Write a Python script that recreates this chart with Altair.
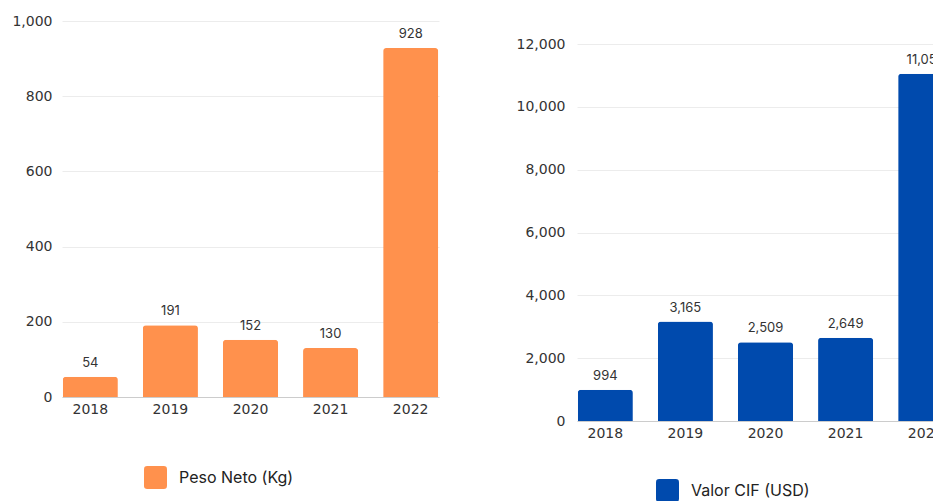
import altair as alt
import pandas as pd

years = ["2018", "2019", "2020", "2021", "2022"]
peso_neto = [54, 191, 152, 130, 928]
valor_cif = [994, 3165, 2509, 2649, 11053]
series_left = "Peso Neto (Kg)"
series_right = "Valor CIF (USD)"

df_l = pd.DataFrame({"year": years, "value": peso_neto, "serie": series_left})
df_r = pd.DataFrame({"year": years, "value": valor_cif, "serie": series_right})

FONT = "Inter"
AXFONT = "DejaVu Sans"
ROUNDED = ("M -0.72 -1 L 0.72 -1 Q 1 -1 1 -0.72 L 1 0.72 Q 1 1 0.72 1 "
           "L -0.72 1 Q -1 1 -1 0.72 L -1 -0.72 Q -1 -1 -0.72 -1 Z")


def panel(df, name, col, ymax, step, h, yrng, lx, ly, ext, lpad):
    x = alt.X("year:N", title=None,
              scale=alt.Scale(paddingInner=0.3125, paddingOuter=0.01),
              axis=alt.Axis(labelAngle=0, ticks=False, domainColor="#cccccc",
                            labelPadding=5, labelFontSize=14, labelColor="#333333",
                            labelFont=AXFONT))
    sc = dict(domain=[0, ymax], nice=False)
    if yrng is not None:
        sc["range"] = yrng
    y = alt.Y("value:Q", title=None, scale=alt.Scale(**sc),
              axis=alt.Axis(values=list(range(0, ymax + 1, step)), format=",d",
                            domain=False, ticks=False, gridColor="#ececec",
                            labelPadding=lpad, minExtent=ext, maxExtent=ext,
                            labelFontSize=14, labelColor="#333333", labelFont=AXFONT))
    c = alt.Color("serie:N",
                  scale=alt.Scale(domain=[name], range=[col]),
                  legend=alt.Legend(title=None, orient="none", legendX=lx, legendY=ly,
                                    symbolType=ROUNDED, symbolSize=529,
                                    symbolStrokeWidth=0, symbolOpacity=1,
                                    labelFontSize=16, labelFont=FONT,
                                    labelColor="#222222", labelOffset=12, padding=0))
    bars = alt.Chart(df).mark_bar(cornerRadiusTopLeft=3, cornerRadiusTopRight=3).encode(
        x=x, y=y, color=c)
    text = alt.Chart(df).mark_text(baseline="bottom", dy=-7, fontSize=13,
                                   color="#333333", font=FONT).encode(
        x="year:N", y="value:Q", text=alt.Text("value:Q", format=",d"))
    return alt.layer(bars, text).properties(width=377, height=h)


left = panel(df_l, series_left, "#FF914D", 1000, 200, 376, None, 82, 445, 54, 10)
right = panel(df_r, series_right, "#004AAD", 12000, 2000, 400, [400, 23], 79, 458, 62, 12)

chart = alt.hconcat(left, right, spacing=76).resolve_scale(
    color="independent", y="independent", x="independent"
).resolve_legend(color="independent").configure_view(stroke=None).properties(
    padding={"top": 6, "left": 0, "right": -21, "bottom": 0}
)

chart.save("out.html", embed_options={"renderer": "svg", "actions": False})
